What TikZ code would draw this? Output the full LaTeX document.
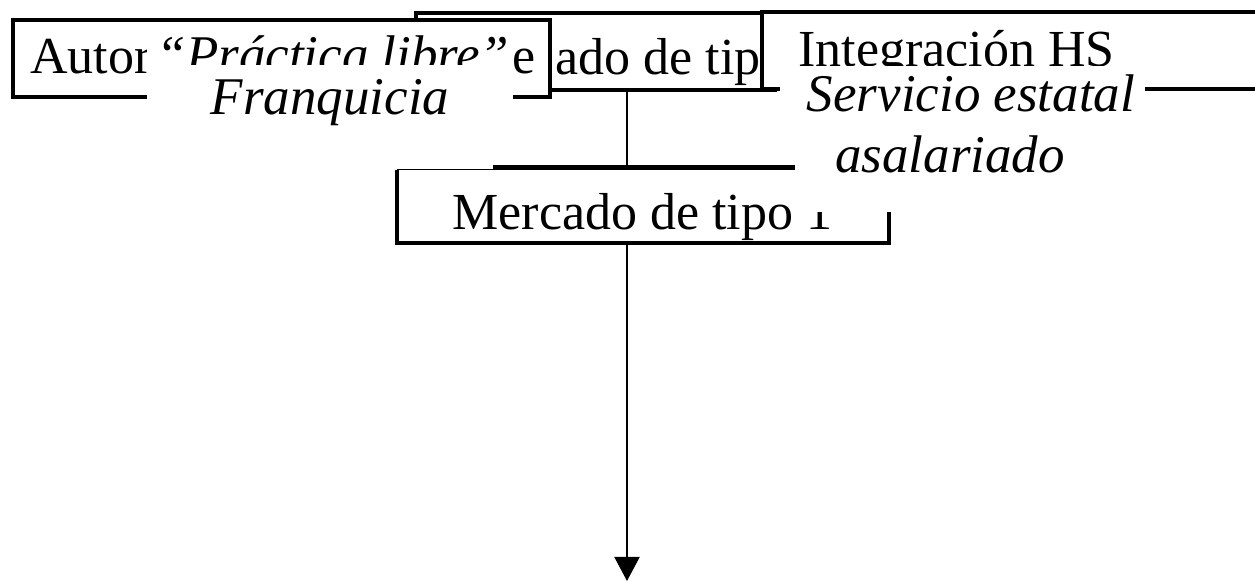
\documentclass[tikz,border=0pt]{standalone}
\usepackage{fontspec}
\setmainfont{Liberation Serif}
\usetikzlibrary{arrows.meta,calc,positioning}
\tikzset{
    x=0.5pt,y=-0.5pt,
    box/.style ={draw, fill=white, line width=2pt, inner sep=0pt, outer sep=0pt},
    thinbox/.style ={draw, fill=white, line width=0.5pt, inner sep=0pt, outer sep=0pt},
    txt/.style = {inner sep=0pt, font=\fontsize{26}{30}\selectfont},
    itxt/.style = {inner sep=0pt, font=\fontsize{26.5}{30}\selectfont\itshape},
    link/.style = {line width=1pt},
    arrow/.style = {link, -{Triangle[width=12.5pt,length=12pt]}}
}
\begin{document}
\begin{tikzpicture}
    \clip (0,0) rectangle (1255,582);
    \coordinate (tip) at (627,581);

    % boxes, back to front
    \node[box, minimum width=179.5pt, minimum height=38.25pt] (mtwo) at (595.5,51.75) {};
    \node[txt, anchor=base west] (mtwotxt) at (555,75) {ado de tip};
    \node[box, minimum width=268.5pt, minimum height=38.5pt] (autor) at (281.5,58.5) {};
    \node[txt, anchor=base west] (autortxt) at (30,74) {Autor};
    \node[txt, anchor=base west] (autore) at (512,74) {e};
    \node[box, minimum width=269pt, minimum height=38.5pt] (integ) at (1031,50.5) {};
    \node[txt, anchor=base west] (integtxt) at (798,67) {Integración HS};
    \node[thinbox, minimum width=246pt, minimum height=36.5pt] (mone) at (643,206.5) {};
    \draw[line width=2pt] (mone.north west) -- (mone.south west) -- (mone.south east) -- (mone.north east);
    \draw[line width=2pt] ($(mone.north west)+(96,-3)$) -- ($(mone.north east)+(0,-3)$);
    \node[txt, anchor=base west] (monetxt) at (452,230) {Mercado de tipo 1};

    % connectors
    \draw[link] (mtwo.south -| tip) -- ($(mone.north -| tip)+(0,-3)$);
    \draw[arrow] (mone.south -| tip) -- (tip);

    % text boxes on top
    \fill[white] (147,23) rectangle (513,125);
    \node[itxt, anchor=base] (libre) at (333,73) {“Práctica libre”};
    \fill[white] (147,65) rectangle (513,125);
    \node[itxt, anchor=base] (franq) at (330,115) {Franquicia};
    \fill[white] (780,66) rectangle (1145,125);
    \node[itxt, anchor=base] (serv) at (971,112) {Servicio estatal};
    \fill[white] (795,125) rectangle (1145,212);
    \node[itxt, anchor=base] (asal) at (950,173) {asalariado};
\end{tikzpicture}
\end{document}
